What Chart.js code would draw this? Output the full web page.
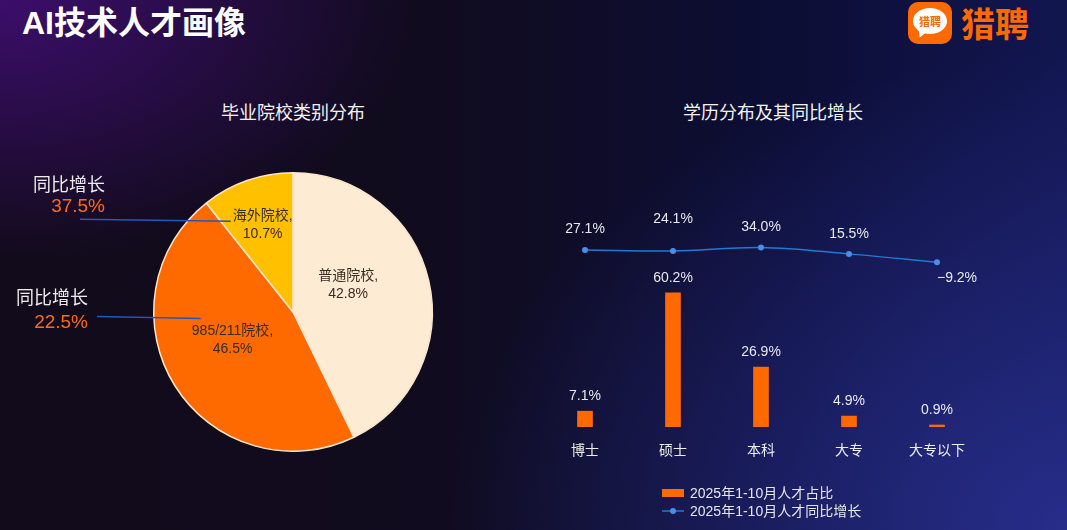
<!DOCTYPE html>
<html>
<head>
<meta charset="utf-8">
<script src="https://cdn.jsdelivr.net/npm/chart.js@4/dist/chart.umd.min.js"></script>
<style>
  html, body { margin: 0; padding: 0; }
  body {
    width: 1067px; height: 530px; overflow: hidden; position: relative;
    font-family: "Liberation Sans", "Noto Sans CJK SC", sans-serif;
    background:
      radial-gradient(ellipse 420px 260px at 0% 0%, rgba(62, 14, 112, 0.95), rgba(40, 10, 80, 0) 100%),
      radial-gradient(ellipse 620px 480px at 100% 100%, rgba(40, 46, 140, 0.95), rgba(30, 34, 110, 0) 100%),
      linear-gradient(90deg, #120b1b 0%, #100b1e 40%, #0c0e36 75%, #121650 100%);
  }
  .title { position: absolute; left: 22px; top: 1px; color: #fff; font-size: 32px; font-weight: bold; line-height: 44px; }
  .sub { position: absolute; top: 100px; color: #f2f2f2; font-size: 18px; line-height: 26px; transform: translateX(-50%); white-space: nowrap; }
  .logo { position: absolute; left: 908px; top: 2px; width: 44px; height: 42px; border-radius: 10px; background: #ff6a00; }
  .bubble { position: absolute; left: 5px; top: 6px; width: 34px; height: 26px; border-radius: 50%; background: #fff;
    color: #ff6a00; font-size: 11px; font-weight: bold; text-align: center; line-height: 26px; font-family: "Noto Sans CJK SC", sans-serif; }
  .tail { position: absolute; left: 9px; top: 28px; width: 0; height: 0; border-left: 4px solid transparent; border-right: 5px solid transparent; border-top: 8px solid #fff; transform: rotate(20deg); }
  .brand { position: absolute; left: 961px; top: 0px; color: #ff6a00; font-size: 34px; line-height: 46px; font-weight: bold; font-family: "Noto Sans CJK SC", sans-serif; }
  canvas { position: absolute; }
</style>
</head>
<body>
<div class="title">AI技术人才画像</div>
<div class="logo"><div class="tail"></div><div class="bubble">猎聘</div></div>
<div class="brand">猎聘</div>
<div class="sub" style="left:293px">毕业院校类别分布</div>
<div class="sub" style="left:773px">学历分布及其同比增长</div>
<canvas id="pie" width="443" height="322" style="left:0;top:140px;width:443px;height:322px"></canvas>
<canvas id="edu" width="470" height="380" style="left:530px;top:150px;width:470px;height:380px"></canvas>
<script>
const FONT = '"Liberation Sans", "Noto Sans CJK SC", sans-serif';

// 毕业院校类别分布
const schoolTypes = ["普通院校", "985/211院校", "海外院校"];
const schoolShare = [42.8, 46.5, 10.7];
const schoolGrowth = [null, 22.5, 37.5];

// 学历分布及其同比增长
const eduLevels = ["博士", "硕士", "本科", "大专", "大专以下"];
const eduShare = [7.1, 60.2, 26.9, 4.9, 0.9];
const eduGrowth = [27.1, 24.1, 34.0, 15.5, -9.2];
const seriesNames = ["2025年1-10月人才占比", "2025年1-10月人才同比增长"];

const pieColors = ["#fdebd3", "#ff6a00", "#ffc000"];
// label placement inside slices: angle tweak (deg) and radius factor
const labelTweak = [{ a: -13, r: 0.44 }, { a: 7, r: 0.48 }, { a: 0, r: 0.66 }];
// growth callouts: leader line (dy from label, start x, end gap), text right edge and dy from line
const callout = [null,
  { lineDy: -13, startX: 97, gap: -9, right: 88, textDy: -19, valueDy: 4 },
  { lineDy: 5, startX: 80, gap: 2, right: 105, textDy: -35, valueDy: -14 }];

const pieLabels = {
  id: "pieLabels",
  afterDatasetsDraw(chart) {
    const ctx = chart.ctx;
    const meta = chart.getDatasetMeta(0);
    ctx.save();
    ctx.textBaseline = "middle";
    meta.data.forEach((arc, i) => {
      const p = arc.getProps(["x", "y", "startAngle", "endAngle", "outerRadius"]);
      const mid = (p.startAngle + p.endAngle) / 2 + labelTweak[i].a * Math.PI / 180;
      const r = p.outerRadius * labelTweak[i].r;
      const lx = p.x + Math.cos(mid) * r;
      const ly = p.y + Math.sin(mid) * r;
      ctx.textAlign = "center";
      ctx.fillStyle = "#3a2c22";
      ctx.font = "14px " + FONT;
      ctx.fillText(schoolTypes[i] + ",", lx, ly - 9);
      ctx.fillText(schoolShare[i].toFixed(1) + "%", lx, ly + 9);

      const g = schoolGrowth[i];
      const c = callout[i];
      if (g == null || !c) return;
      const w = ctx.measureText(schoolTypes[i] + ",").width;
      const endX = lx - w / 2 - c.gap;
      const lineY = ly - 9 + c.lineDy;
      ctx.strokeStyle = "#2457b8";
      ctx.lineWidth = 1.5;
      ctx.beginPath();
      ctx.moveTo(c.startX, lineY - 2);
      ctx.lineTo(endX, lineY);
      ctx.stroke();
      ctx.textAlign = "right";
      ctx.font = "18px " + FONT;
      ctx.fillStyle = "#ececec";
      ctx.fillText("同比增长", c.right, lineY + c.textDy);
      ctx.fillStyle = "#ff6a1a";
      ctx.font = "19px " + FONT;
      ctx.fillText(g.toFixed(1) + "%", c.right, lineY + c.valueDy);
    });
    ctx.restore();
  }
};

new Chart(document.getElementById("pie"), {
  type: "pie",
  data: {
    labels: schoolTypes,
    datasets: [{ data: schoolShare, backgroundColor: pieColors, borderColor: "#fbe6cc", borderWidth: 1.5 }]
  },
  options: {
    responsive: false,
    animation: false,
    layout: { padding: { left: 153, right: 10, top: 32, bottom: 10 } },
    plugins: { legend: { display: false }, tooltip: { enabled: false } }
  },
  plugins: [pieLabels]
});

// per-point offsets of the growth labels
const growthLabelOffset = [{ x: 0, y: -21 }, { x: 0, y: -32 }, { x: 0, y: -20 }, { x: 0, y: -20 }, { x: 20, y: 16 }];

const eduLabels = {
  id: "eduLabels",
  afterDatasetsDraw(chart) {
    const ctx = chart.ctx;
    ctx.save();
    ctx.font = "14px " + FONT;
    ctx.fillStyle = "#e8e8ee";
    ctx.textAlign = "center";
    ctx.textBaseline = "middle";
    chart.getDatasetMeta(1).data.forEach((bar, i) => {
      ctx.fillText(eduShare[i].toFixed(1) + "%", bar.x, bar.y - 15);
    });
    chart.getDatasetMeta(0).data.forEach((pt, i) => {
      const v = eduGrowth[i];
      const s = (v < 0 ? "\u2212" + Math.abs(v).toFixed(1) : v.toFixed(1)) + "%";
      ctx.fillText(s, pt.x + growthLabelOffset[i].x, pt.y + growthLabelOffset[i].y);
    });
    // legend
    const a = chart.chartArea;
    const x0 = a.left + 121;
    const y1 = a.bottom + 66, y2 = a.bottom + 84;
    const ds = chart.data.datasets;
    ctx.textAlign = "left";
    ctx.fillStyle = ds[1].backgroundColor;
    ctx.fillRect(x0, y1 - 4, 22, 8);
    ctx.strokeStyle = ds[0].borderColor;
    ctx.lineWidth = 1.5;
    ctx.beginPath();
    ctx.moveTo(x0, y2);
    ctx.lineTo(x0 + 22, y2);
    ctx.stroke();
    ctx.fillStyle = ds[0].pointBackgroundColor;
    ctx.beginPath();
    ctx.arc(x0 + 11, y2, 3, 0, Math.PI * 2);
    ctx.fill();
    ctx.fillStyle = "#e6e6ee";
    ctx.fillText(ds[1].label, x0 + 28, y1 + 1);
    ctx.fillText(ds[0].label, x0 + 28, y2 + 1);
    ctx.restore();
  }
};

new Chart(document.getElementById("edu"), {
  data: {
    labels: eduLevels,
    datasets: [
      {
        type: "line", label: seriesNames[1], data: eduGrowth, yAxisID: "y2",
        borderColor: "#1f7ad6", borderWidth: 1.5, tension: 0.35,
        pointRadius: 3, pointBackgroundColor: "#4a8ee8", pointBorderWidth: 0, order: 0
      },
      {
        type: "bar", label: seriesNames[0], data: eduShare, yAxisID: "y",
        backgroundColor: "#ff6a00", barThickness: 15, order: 1
      }
    ]
  },
  options: {
    responsive: false,
    animation: false,
    layout: { padding: { left: 11, right: 19, top: 0, bottom: 0 } },
    plugins: { legend: { display: false }, tooltip: { enabled: false } },
    scales: {
      x: {
        grid: { display: false }, border: { display: false },
        ticks: { color: "#ececf2", font: { size: 14, family: FONT }, padding: 8 },
        afterFit(s) { s.height = 103; }
      },
      y: { display: false, min: 0, max: 122.6 },
      y2: { display: false, min: -491, max: 307.7 }
    }
  },
  plugins: [eduLabels]
});
</script>
</body>
</html>
